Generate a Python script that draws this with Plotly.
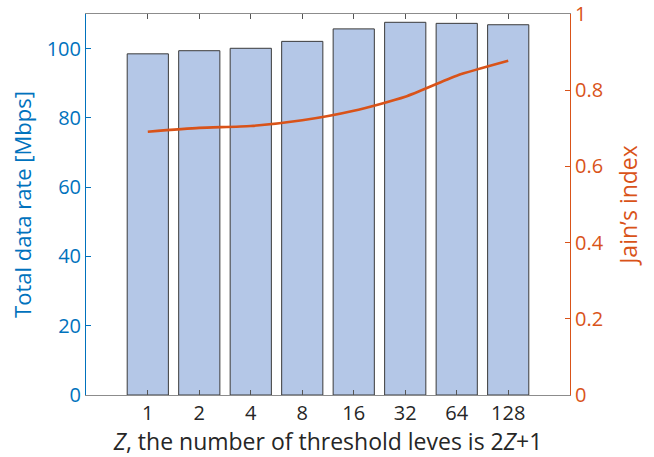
import plotly.graph_objects as go

# Threshold parameter Z and the measured results for each setting
z_labels = ["1", "2", "4", "8", "16", "32", "64", "128"]
total_rate_mbps = [98.5, 99.4, 100.1, 102.1, 105.7, 107.6, 107.3, 106.9]
jain_index = [0.691, 0.701, 0.706, 0.721, 0.746, 0.783, 0.838, 0.877]

BLUE = "#0072BD"
ORANGE = "#D95319"
FONT = "Open Sans"

fig = go.Figure()
fig.add_trace(go.Bar(
    x=z_labels, y=total_rate_mbps,
    marker=dict(color="#B4C7E7", line=dict(color="#3a3a3a", width=1)),
    yaxis="y", showlegend=False,
))
fig.add_trace(go.Scatter(
    x=z_labels, y=jain_index, mode="lines",
    line=dict(color=ORANGE, width=2.6, shape="spline", smoothing=0.6),
    yaxis="y2", showlegend=False,
))

fig.update_layout(
    width=654, height=457,
    margin=dict(l=86, r=84, t=14, b=62, autoexpand=False),
    paper_bgcolor="white", plot_bgcolor="white",
    bargap=0.2,
    font=dict(family=FONT, size=20),
    xaxis=dict(
        type="category", range=[-1.2, 8.2], automargin=False,
        showline=True, linecolor="#8c8c8c", linewidth=1, mirror="ticks",
        ticks="inside", ticklen=5, tickcolor="#555555",
        showgrid=False, zeroline=False,
        tickfont=dict(color="#262626", size=20),
        title=dict(text="<i>Z</i>, the number of threshold leves is 2<i>Z</i>+1",
                   font=dict(color="#262626", size=23), standoff=0),
    ),
    yaxis=dict(
        range=[0, 110], tickvals=[0, 20, 40, 60, 80, 100], automargin=False,
        showline=True, linecolor=BLUE, linewidth=1,
        ticks="inside", ticklen=5, tickcolor=BLUE,
        showgrid=False, zeroline=False,
        tickfont=dict(color=BLUE, size=20),
        title=dict(text="Total data rate [Mbps]", font=dict(color=BLUE, size=22), standoff=8),
    ),
    yaxis2=dict(
        range=[0, 1], tickvals=[0, 0.2, 0.4, 0.6, 0.8, 1], automargin=False,
        overlaying="y", side="right",
        showline=True, linecolor=ORANGE, linewidth=1,
        ticks="inside", ticklen=5, tickcolor=ORANGE,
        showgrid=False, zeroline=False,
        tickfont=dict(color=ORANGE, size=20),
        title=dict(text="Jain’s index", font=dict(color=ORANGE, size=23), standoff=18),
    ),
)

fig.write_html("out.html")
